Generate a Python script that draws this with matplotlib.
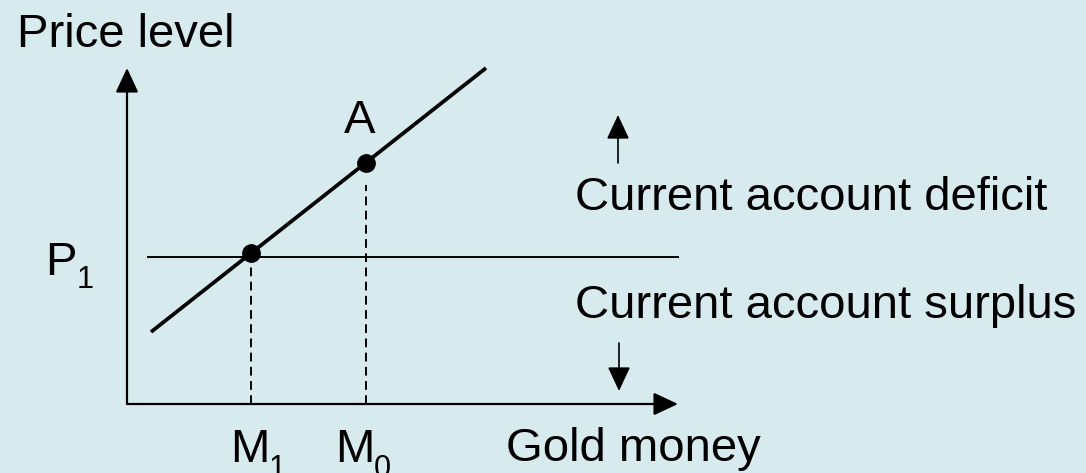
import matplotlib.pyplot as plt

plt.rcParams['font.family'] = ['Liberation Sans', 'DejaVu Sans']

# schematic units: origin at the corner of the two axes
axis_x_end = 551
axis_y_end = 336

m1 = 124          # M1 gold money
m0 = 239          # M0 gold money
p1 = 147          # P1 price level

# price level line (rising with gold money)
line_x = [24, 359]
line_y = [72, 336]

p1_line_x = [21, 551]
m0_dash_top = 219


def price_at(m):
    return line_y[0] + (m - line_x[0]) * (line_y[1] - line_y[0]) / (line_x[1] - line_x[0])


bg = '#d7ebef'
fig = plt.figure(figsize=(10.86, 4.73), dpi=100, facecolor=bg)
ax = fig.add_axes([0, 0, 1, 1])
ax.set_facecolor(bg)
ax.set_xlim(-127, 959)
ax.set_ylim(-69, 404)
ax.axis('off')

arrow = dict(arrowstyle='-|>,head_length=15,head_width=7', mutation_scale=1,
             color='black', shrinkA=0, shrinkB=0)

# axes with arrow heads
ax.annotate('', xy=(0, axis_y_end), xytext=(0, 0), arrowprops=dict(arrow, lw=1.6))
ax.annotate('', xy=(axis_x_end, 0), xytext=(0, 0), arrowprops=dict(arrow, lw=1.6))

# horizontal P1 line
ax.plot(p1_line_x, [p1, p1], color='black', lw=1.4)

# rising line
ax.plot(line_x, line_y, color='black', lw=2.7, solid_capstyle='butt')

# dashed drop lines
ax.plot([m1, m1], [0, p1], color='black', lw=1.4, ls=(0, (4.5, 2.8)))
ax.plot([m0, m0], [0, m0_dash_top], color='black', lw=1.4, ls=(0, (4.5, 2.8)))

# points
ax.plot([m1, m0], [price_at(m1), price_at(m0)], 'o', color='black', ms=12.5)

fs = 34
sub = 22
ax.text(-110, 357, 'Price level', fontsize=fs, ha='left', va='baseline')
ax.text(379, -57, 'Gold money', fontsize=fs, ha='left', va='baseline')
ax.text(233, 271, 'A', fontsize=fs, ha='center', va='baseline')

ax.text(-82, 129, 'P', fontsize=fs, ha='left', va='baseline')
ax.text(-50, 116, '1', fontsize=sub, ha='left', va='baseline')
ax.text(103, -58, 'M', fontsize=fs, ha='left', va='baseline')
ax.text(142, -73, '1', fontsize=sub, ha='left', va='baseline')
ax.text(208, -58, 'M', fontsize=fs, ha='left', va='baseline')
ax.text(247, -73, '0', fontsize=sub, ha='left', va='baseline')

ax.text(448, 194, 'Current account deficit', fontsize=fs, ha='left', va='baseline')
ax.text(448, 86, 'Current account surplus', fontsize=fs, ha='left', va='baseline')

ax.annotate('', xy=(491, 289), xytext=(491, 241), arrowprops=dict(arrow, lw=1.2))
ax.annotate('', xy=(492, 13), xytext=(492, 61), arrowprops=dict(arrow, lw=1.2))

fig.savefig('out.png', dpi=100, facecolor=bg)
